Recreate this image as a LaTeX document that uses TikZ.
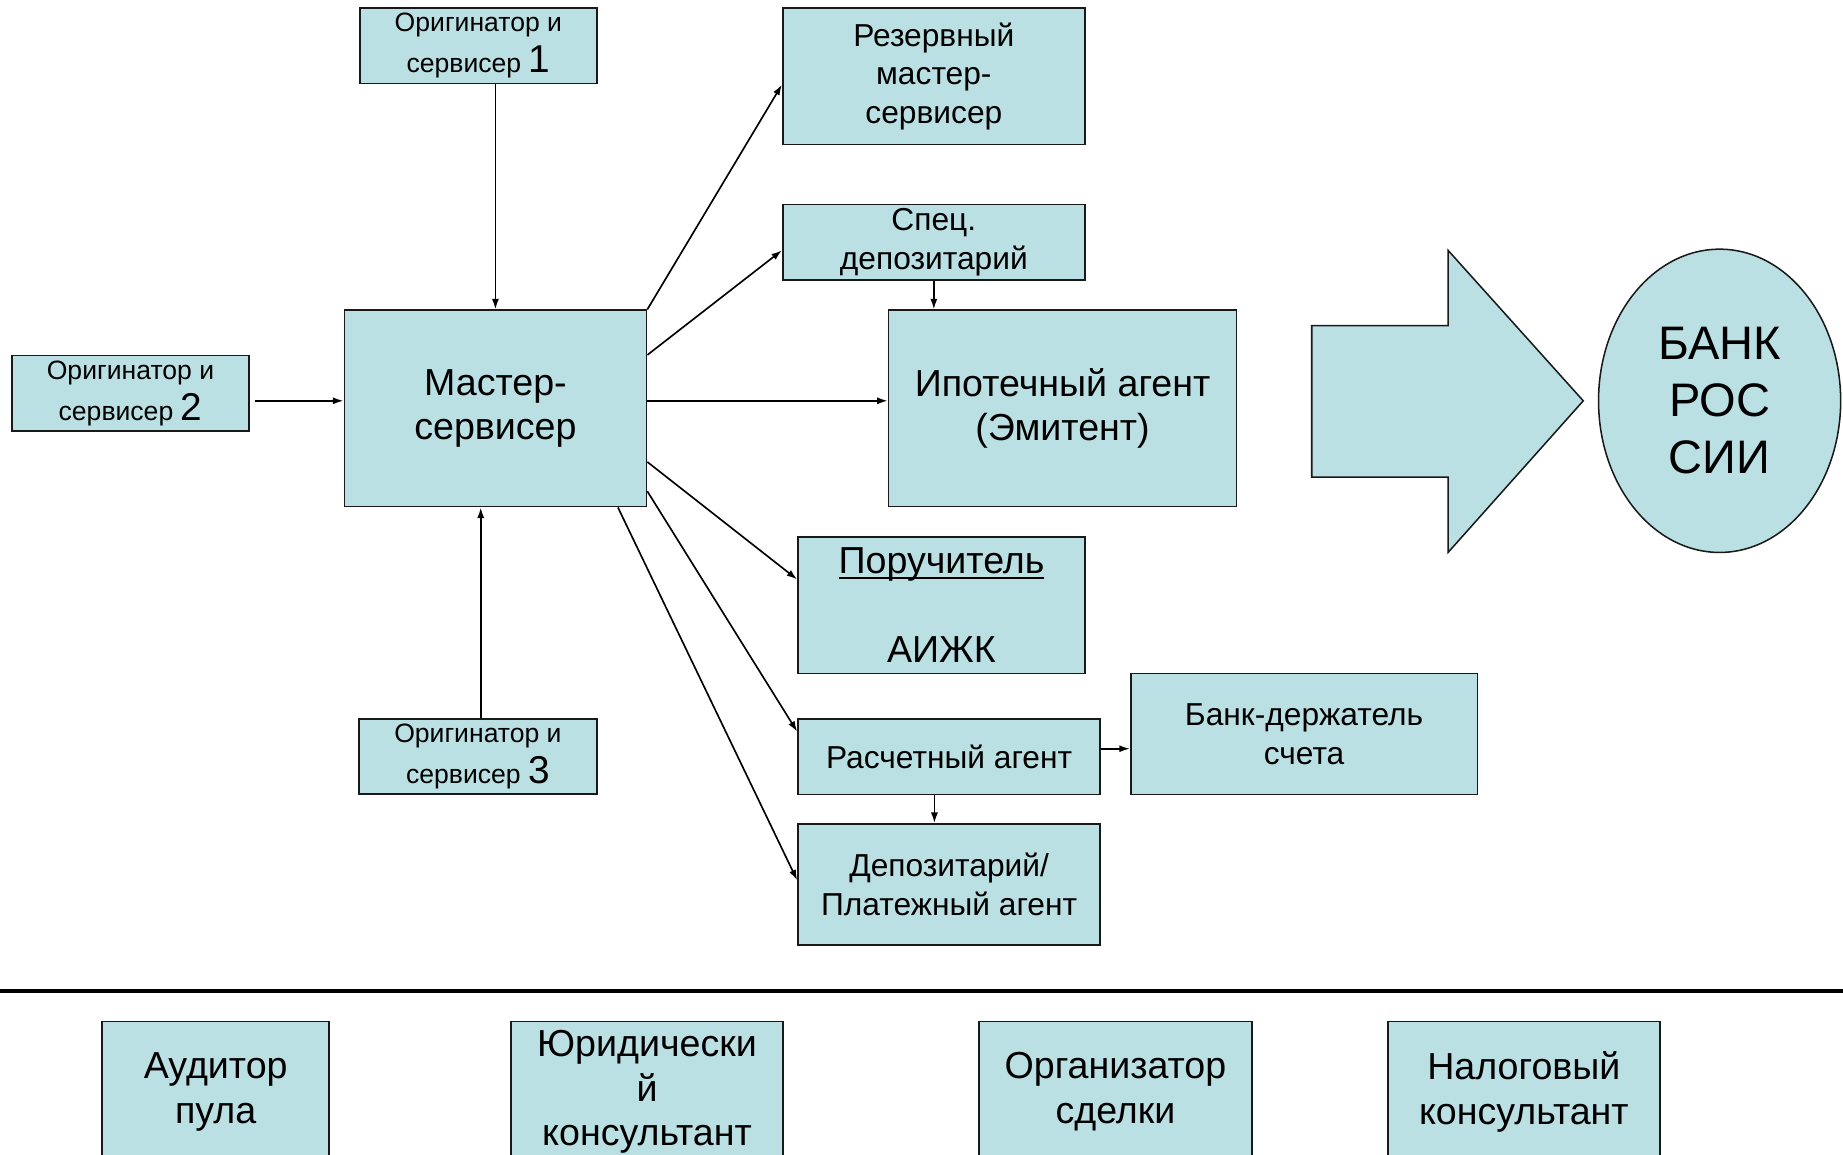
\documentclass[tikz,border=0pt]{standalone}
\usepackage{fontspec}
\setmainfont{Liberation Sans}
\usetikzlibrary{arrows.meta,shapes.geometric}
\definecolor{boxfill}{RGB}{187,224,227}
\definecolor{boxline}{RGB}{25,25,25}
\tikzset{
  box/.style={draw=boxline, fill=boxfill, line width=1.5pt, inner sep=0pt, align=center},
  fsmall/.style={font=\fontsize{22.6}{35}\selectfont},
  fmid/.style={font=\fontsize{27}{33}\selectfont},
  fbig/.style={font=\fontsize{32}{38}\selectfont},
  arr/.style={line width=1.4pt, draw=black, -{Latex[length=9pt,width=6pt]}},
}
\newcommand{\bignum}[1]{{\fontsize{33}{35}\selectfont #1}}
\newcommand{\myul}[1]{\setbox0\hbox{#1}\rlap{\rule[-5pt]{\wd0}{2.3pt}}\box0}
\begin{document}
\begin{tikzpicture}[x=1pt,y=-1pt]
\useasboundingbox (0,0) rectangle (1568,982);
\clip (0,0) rectangle (1568,982);

% top-left group
\node[box, fsmall, minimum width=202pt, minimum height=64pt] (orig1) at (407,39) {Оригинатор и\\сервисер \bignum{1}};
\node[box, fsmall, minimum width=202pt, minimum height=64pt] (orig2) at (111,334.5) {Оригинатор и\\сервисер \bignum{2}};
\node[box, fsmall, minimum width=202pt, minimum height=64pt] (orig3) at (406.6,643.5) {Оригинатор и\\сервисер \bignum{3}};
\node[box, fbig, minimum width=257pt, minimum height=167pt] (master) at (421.5,347.5) {Мастер-\\сервисер};

% right group
\node[box, fmid, minimum width=257pt, minimum height=116pt] (rez) at (794.5,65) {Резервный\\мастер-\\сервисер};
\node[box, fmid, minimum width=257pt, minimum height=64pt] (spec) at (794.5,206) {Спец.\\депозитарий};
\node[box, fbig, minimum width=296pt, minimum height=167pt] (ipot) at (904,347.5) {Ипотечный агент\\(Эмитент)};
\node[box, fbig, minimum width=244pt, minimum height=116pt] (poruch) at (801,515) {\myul{Поручитель}\\[38pt]АИЖК};
\node[box, fmid, minimum width=257pt, minimum height=64pt] (rasch) at (807.5,644) {Расчетный агент};
\node[box, fmid, minimum width=295pt, minimum height=103pt] (bankh) at (1109.5,624.5) {Банк-держатель\\счета};
\node[box, fmid, minimum width=257pt, minimum height=103pt] (depoz) at (807.5,752.5) {Депозитарий/\\Платежный агент};

% big arrow and ellipse
\draw[draw=boxline, fill=boxfill, line width=1.3pt, line join=miter]
  (1116,277) -- (1232,277) -- (1232,213) -- (1347,341) -- (1232,470) -- (1232,406) -- (1116,406) -- cycle;
\node[ellipse, draw=boxline, fill=boxfill, line width=1.3pt, inner sep=0pt, align=center,
  minimum width=206pt, minimum height=258pt, font=\fontsize{40}{48.5}\selectfont] (bank) at (1463,341) {БАНК\\РОС\\СИИ};

% connectors
\coordinate (m3) at ([xshift=-12.5pt]master.south);
\draw[arr] (orig1.south -| master.north) -- (master.north);
\draw[arr] ([xshift=4pt,yshift=-6.5pt]orig2.east) -- ([yshift=6.5pt]master.west);
\draw[arr] (orig3.north -| m3) -- (m3);
\draw[arr] (master.north east) -- ([yshift=-7pt]rez.west);
\draw[arr] ([yshift=45.5pt]master.east) -- ([yshift=-7pt]spec.west);
\draw[arr] ([yshift=6.5pt]master.east) -- ([yshift=6.5pt]ipot.west);
\draw[arr] ([yshift=-45.5pt]master.east) -- ([yshift=22pt]poruch.west);
\draw[arr] ([yshift=-70.5pt]master.east) -- ([yshift=21.5pt]rasch.west);
\draw[arr] ([xshift=-25pt]master.south east) -- ([yshift=3.5pt]depoz.west);
\draw[arr] (spec.south) -- (spec.south |- ipot.north);
\draw[arr] ([yshift=7pt]rasch.east) -- ([yshift=-12.5pt]bankh.west);
\draw[arr] ([xshift=-12.5pt]rasch.south) -- ([xshift=-12.5pt]depoz.north);

% separator
\draw[line width=2.8pt, draw=black] (0,843) -- (1568,843);

% bottom boxes
\node[box, fbig, minimum width=193pt, minimum height=120pt] (aud) at (183.5,929) {Аудитор\\пула};
\node[box, fbig, minimum width=231pt, minimum height=120pt] (yur) at (550.5,929) {Юридически\\й\\консультант};
\node[box, fbig, minimum width=232pt, minimum height=120pt] (org) at (949,929) {Организатор\\сделки};
\node[box, fbig, minimum width=231pt, minimum height=120pt] (nal) at (1296.5,929) {Налоговый\\консультант};
\end{tikzpicture}
\end{document}
